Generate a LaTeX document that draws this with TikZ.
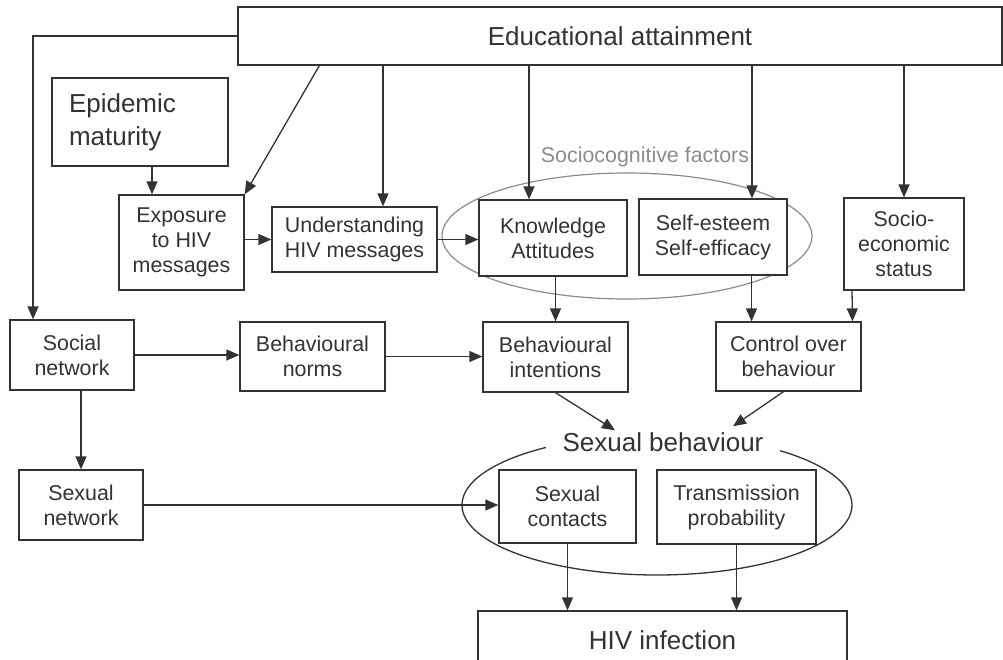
\documentclass[tikz,border=0pt]{standalone}
\usepackage{fontspec}
\setmainfont{Liberation Sans}
\usepackage{tikz}
\usetikzlibrary{arrows.meta}
\definecolor{ink}{HTML}{333333}
\definecolor{halo}{HTML}{8C8C8C}

\begin{document}
\begin{tikzpicture}[x=1pt, y=-1pt,
  factor/.style={draw=ink, text=ink, fill=white, line width=1.3pt, align=center,
    inner sep=2pt, font=\fontsize{21.4}{25}\selectfont},
  headline/.style={text=ink, font=\fontsize{26}{33}\selectfont},
  arr/.style={draw=ink, line width=1.3pt, -{Triangle[length=13pt,width=11pt]}}]
 \useasboundingbox (0,0) rectangle (1003,659);

 % groupings behind the boxes
 \draw[halo, line width=1.2pt] (627,236) ellipse [x radius=185pt, y radius=63pt];
 \node[text=halo, font=\fontsize{21.4}{25}\selectfont] (scf) at (645,157) {Sociocognitive factors};
 \draw[ink, line width=1.3pt] (657,505) ellipse [x radius=195pt, y radius=70pt];
 \node[headline, fill=white, inner xsep=17pt, inner ysep=2pt] (sb) at (663,442) {Sexual behaviour};

 % boxes
 \node[factor, headline, minimum width=764pt, minimum height=58pt] (edu) at (620,36) {Educational attainment};
 \node[factor, headline, align=left, text width=142pt, inner xsep=17pt, minimum height=88pt] (epi) at (140,122) {Epidemic\\maturity};
 \node[factor, minimum width=125pt, minimum height=95pt] (expo) at (181.5,242.5) {Exposure\\to HIV\\messages};
 \node[factor, minimum width=165pt, minimum height=65pt] (under) at (354.5,239.5) {Understanding\\HIV messages};
 \node[factor, minimum width=148pt, minimum height=76pt] (know) at (553,238) {Knowledge\\Attitudes};
 \node[factor, minimum width=148pt, minimum height=76pt] (selfe) at (713,237) {Self-esteem\\Self-efficacy};
 \node[factor, minimum width=120pt, minimum height=92pt] (ses) at (904,244) {Socio-\\economic\\status};
 \node[factor, minimum width=124pt, minimum height=70pt] (soc) at (72,355) {Social\\network};
 \node[factor, minimum width=145pt, minimum height=69pt] (norms) at (312.5,356.5) {Behavioural\\norms};
 \node[factor, minimum width=145pt, minimum height=70pt] (intent) at (555.5,357) {Behavioural\\intentions};
 \node[factor, minimum width=145pt, minimum height=69pt] (ctrl) at (788.5,356.5) {Control over\\behaviour};
 \node[factor, minimum width=124pt, minimum height=70pt] (sexnet) at (81,505) {Sexual\\network};
 \node[factor, minimum width=137pt, minimum height=73pt] (contacts) at (567.5,506.5) {Sexual\\contacts};
 \node[factor, minimum width=159pt, minimum height=74pt] (trans) at (736.5,507) {Transmission\\probability};
 \node[factor, headline, minimum width=369pt, minimum height=58pt] (hiv) at (662.5,640) {HIV infection};

 % arrows out of educational attainment
 \coordinate (t1) at ([xshift=-39pt]soc.north);
 \draw[arr] (edu.west) -| (t1);
 \draw[arr] ([xshift=82pt]edu.south west) -- (expo.north east);
 \coordinate (t3) at ([xshift=28.5pt]under.north);
 \draw[arr] (edu.south -| t3) -- (t3);
 \coordinate (t4) at ([xshift=-24pt]know.north);
 \draw[arr] (edu.south -| t4) -- (t4);
 \coordinate (t5) at ([xshift=39pt]selfe.north);
 \draw[arr] (edu.south -| t5) -- (t5);
 \draw[arr] (edu.south -| ses.north) -- (ses.north);

 \coordinate (t2) at ([xshift=-29.5pt]expo.north);
 \draw[arr] (epi.south -| t2) -- (t2);
 \draw[arr] (expo.east |- under.west) -- (under.west);
 \draw[arr] (under.east) -- (under.east -| know.west);
 \draw[arr] (know.south -| intent.north) -- (intent.north);
 \coordinate (t6) at ([xshift=-37pt]ctrl.north);
 \draw[arr] (selfe.south -| t6) -- (t6);
 \coordinate (t7) at ([xshift=64pt]ctrl.north);
 \draw[arr] ([xshift=-52pt]ses.south) -- (t7);

 \draw[arr] (soc.east) -- (soc.east -| norms.west);
 \draw[arr] (norms.east) -- (norms.east -| intent.west);
 \draw[arr] (sexnet.north |- soc.south) -- (sexnet.north);
 \draw[arr] (intent.south) -- ([xshift=-48pt]sb.north);
 \draw[arr] ([xshift=-5pt]ctrl.south) -- ([xshift=70pt,yshift=4pt]sb.north);
 \draw[arr] (sexnet.east) -- (sexnet.east -| contacts.west);
 \draw[arr] (contacts.south) -- (contacts.south |- hiv.north);
 \draw[arr] (trans.south) -- (trans.south |- hiv.north);
\end{tikzpicture}
\end{document}
